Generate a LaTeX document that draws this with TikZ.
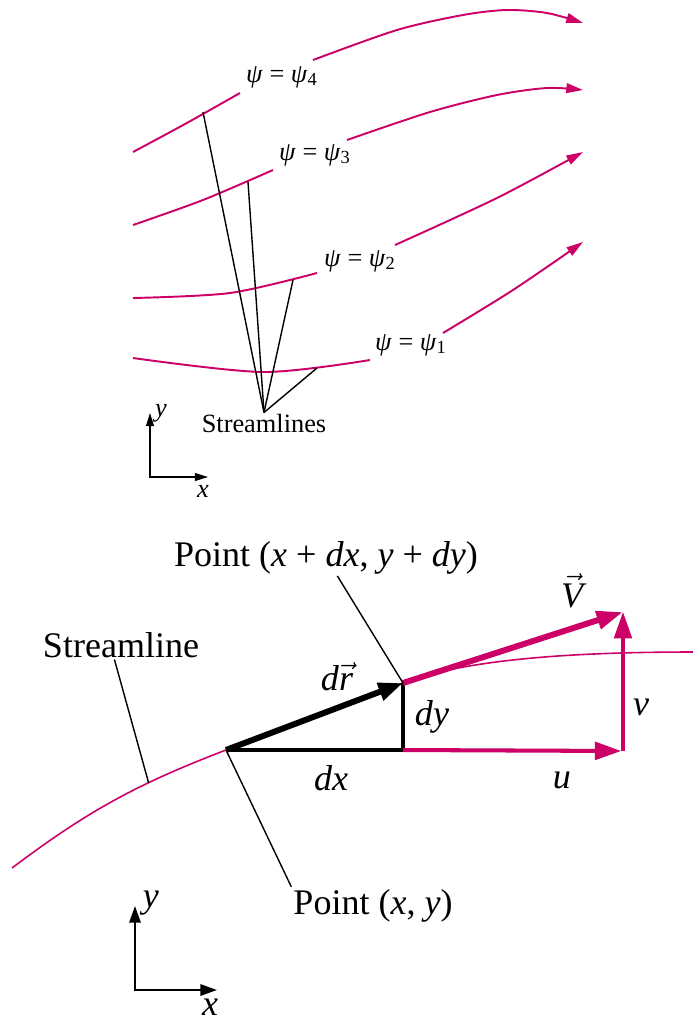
\documentclass[tikz,border=0pt]{standalone}
\usepackage{fontspec}
\setmainfont{Liberation Serif}
\usepackage{amsmath}
\usepackage{tikz}
\usetikzlibrary{positioning, arrows.meta}
\definecolor{flow}{RGB}{204,0,102}

\begin{document}
\begin{tikzpicture}[
        x=0.02cm, y=-0.02cm,
        stream/.style={draw=flow, line width=1.1pt},
        streamarrow/.style={stream, -{Triangle[length=9.5pt, width=5.5pt]}},
        leader/.style={draw, line width=0.8pt},
        small/.style={font=\fontsize{15}{17}\selectfont, inner sep=0.5pt, anchor=base},
        big/.style={font=\fontsize{20.5}{23}\selectfont, inner sep=1pt, anchor=base},
        axesone/.style={line width=0.8pt, {Triangle[length=7.5pt, width=4.5pt]}-{Triangle[length=7.5pt, width=4.5pt]}},
        axestwo/.style={line width=1.1pt, {Triangle[length=9.5pt, width=6.5pt]}-{Triangle[length=9.5pt, width=6.5pt]}},
        drvec/.style={line width=3.4pt, -{Triangle[length=14pt, width=10pt]}},
        flowvec/.style={draw=flow, fill=flow, -{Triangle[length=15pt, width=10pt]}}
    ]
        \useasboundingbox (0,0) rectangle (693,1019);

        % Family of streamlines
        \draw[stream] plot[smooth] coordinates {(133,152) (185,124) (240,93)};
        \draw[streamarrow] plot[smooth] coordinates {(313,60) (397,30) (463,15) (507,10) (547,13) (583,23)};
        \draw[stream] plot[smooth] coordinates {(133,225) (203,200) (273,170)};
        \draw[streamarrow] plot[smooth] coordinates {(347,140) (430,112) (497,95) (547,88) (583,90)};
        \draw[stream] plot[smooth] coordinates {(133,298) (230,293) (317,273)};
        \draw[streamarrow] plot[smooth] coordinates {(395,245) (497,198) (583,152)};
        \draw[stream] plot[smooth] coordinates {(133,358) (263,372) (370,360)};
        \draw[streamarrow] plot[smooth] coordinates {(443,333) (513,290) (583,242)};

        \node[small] (psi4) at (282,82) {\textit{ψ} = \textit{ψ}\textsubscript{4}};
        \node[small] (psi3) at (315,160) {\textit{ψ} = \textit{ψ}\textsubscript{3}};
        \node[small] (psi2) at (360,266) {\textit{ψ} = \textit{ψ}\textsubscript{2}};
        \node[small] (psi1) at (411,350) {\textit{ψ} = \textit{ψ}\textsubscript{1}};
        \node[small] (stls) at (264,432) {Streamlines};

        \coordinate (s4) at (203,112);
        \coordinate (s3) at (248,182);
        \coordinate (s2) at (293,280);
        \coordinate (s1) at (317,368);
        \draw[leader] (stls.north) -- (s4);
        \draw[leader] (stls.north) -- (s3);
        \draw[leader] (stls.north) -- (s2);
        \draw[leader] (stls.north) -- (s1);

        \coordinate (o1) at (150,477);
        \coordinate (o1y) at (150,413);
        \coordinate (o1x) at (208,477);
        \draw[axesone] (o1y) -- (o1) -- (o1x);
        \node[small] (y1) at (161,416) {\textit{y}};
        \node[small] (x1) at (203,497) {\textit{x}};

        % Single streamline with velocity
        \coordinate (P) at (226,750);
        \coordinate (Q) at (403,683);
        \coordinate (R) at (403,750);
        \coordinate (T) at (623,612);
        \coordinate (U) at (623,751);
        \draw[stream, line width=0.9pt] (12,868) to[out=37, in=201] coordinate[pos=0.67] (sp) (P)
            -- (Q) to[out=21, in=180, out looseness=0.6] (693,652);

        \draw[line width=2pt] (P) -- (R) -- (Q);
        \draw[drvec] (P) -- (Q);
        \draw[flowvec, line width=2.3pt, shorten >=1pt] (R) -- (U);
        \draw[flowvec, line width=2pt] (U) -- (T);
        \draw[flowvec, line width=3.4pt] (Q) -- (T);

        \node[big] (ptq) at (326,566) {Point (\textit{x} + \textit{dx}, \textit{y} + \textit{dy})};
        \node[big] (stl) at (121,657) {Streamline};
        \node[big] (ptxy) at (373,914) {Point (\textit{x}, \textit{y})};
        \node[big] (vlab) at (572,607) {$\vec{\textit{V}}$};
        \node[big] (drlab) at (337,690) {\textit{d}$\vec{\textit{r}}$};
        \node[big] (dylab) at (432,725) {\textit{dy}};
        \node[big] (dxlab) at (331,790) {\textit{dx}};
        \node[big] (ulab) at (562,788) {\textit{u}};
        \node[big] (vvlab) at (641,715) {\textit{v}};

        \draw[leader] (Q) -- (ptq);
        \draw[leader] (stl.-114) -- (sp);
        \draw[leader] (ptxy.north west) -- (P);

        \coordinate (o2) at (135,990);
        \coordinate (o2y) at (135,906);
        \coordinate (o2x) at (217,990);
        \draw[axestwo] (o2y) -- (o2) -- (o2x);
        \node[big] (y2) at (151,907) {\textit{y}};
        \node[big] (x2) at (210,1015) {\textit{x}};
    \end{tikzpicture}
\end{document}
